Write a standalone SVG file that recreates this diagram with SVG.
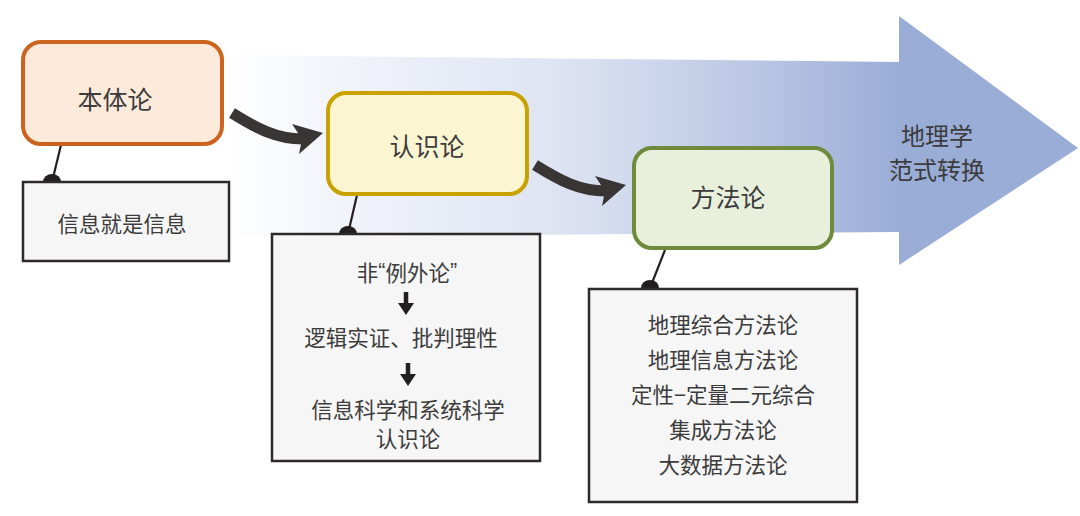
<svg xmlns="http://www.w3.org/2000/svg" width="1080" height="516" viewBox="0 0 1080 516">
<defs>
<linearGradient id="bg" gradientUnits="userSpaceOnUse" x1="225" y1="0" x2="900" y2="0">
<stop offset="0" stop-color="#ffffff"/>
<stop offset="0.15" stop-color="#f3f5fb"/>
<stop offset="0.5" stop-color="#dde3f2"/>
<stop offset="0.8" stop-color="#b8c5e3"/>
<stop offset="1" stop-color="#9aadd7"/>
</linearGradient>
<g id="curv">
<path d="M232,113 C256,128 276,139 303,139" fill="none" stroke="#3a3535" stroke-width="11"/>
<polygon points="323,133 292,124 302,139 299,154" fill="#3a3535"/>
</g>
</defs>
<style>
text{font-family:"Noto Sans CJK SC","Noto Sans",sans-serif;fill:#3c3c3c;text-anchor:middle;dominant-baseline:central}
.t{font-size:25px}
.h{font-size:24px}
.s{font-size:21.5px}
.q{font-family:"Liberation Sans",sans-serif}
.box{fill:#f6f6f6;stroke:#2e2a2a;stroke-width:2.5}
.lk{stroke:#231f20;stroke-width:2.2}
.dot{fill:#231f20}
</style>
<g id="band">
<polygon points="225,55 899,62 899,16 1078,148 899,265 899,232 225,237" fill="url(#bg)"/>
<text class="h" x="937" y="134">地理学</text>
<text class="h" x="937" y="168">范式转换</text>
</g>
<g id="connectors">
<use href="#curv"/>
<use href="#curv" transform="translate(303,52)"/>
<line class="lk" x1="61" y1="145" x2="52" y2="182"/>
<path class="dot" d="M43,182 A9,8 0 0 1 61,182 Z"/>
<line class="lk" x1="357" y1="195" x2="348" y2="234"/>
<path class="dot" d="M339,234 A9,8 0 0 1 357,234 Z"/>
<line class="lk" x1="665" y1="250" x2="650" y2="288"/>
<path class="dot" d="M641,288 A9,8 0 0 1 659,288 Z"/>
</g>
<g id="n1">
<rect x="23" y="42" width="199" height="102" rx="18" fill="#fdeadb" stroke="#cc6420" stroke-width="4"/>
<text class="t" x="115" y="98">本体论</text>
</g>
<g id="n1b">
<rect class="box" x="23" y="182" width="206" height="79"/>
<text class="s" x="122" y="222">信息就是信息</text>
</g>
<g id="n2">
<rect x="328" y="93" width="199" height="101" rx="18" fill="#fcf5d2" stroke="#c9a200" stroke-width="4"/>
<text class="t" x="427" y="145">认识论</text>
</g>
<g id="n2b">
<rect class="box" x="272" y="234" width="268" height="227"/>
<text class="s" x="407" y="271">非<tspan class="q">“</tspan>例外论<tspan class="q">”</tspan></text>
<path d="M406,292 V305" stroke="#231f20" stroke-width="4.5" fill="none"/>
<polygon points="398,303 414,303 406,315" fill="#231f20"/>
<text class="s" x="401" y="336">逻辑实证、批判理性</text>
<path d="M408,363 V376" stroke="#231f20" stroke-width="4.5" fill="none"/>
<polygon points="400,374 416,374 408,386" fill="#231f20"/>
<text class="s" x="408" y="408">信息科学和系统科学</text>
<text class="s" x="408" y="437">认识论</text>
</g>
<g id="n3">
<rect x="634" y="148" width="198" height="100" rx="18" fill="#e8f0dc" stroke="#6f8a3a" stroke-width="4"/>
<text class="t" x="728" y="196">方法论</text>
</g>
<g id="n3b">
<rect class="box" x="589" y="289" width="268" height="213"/>
<text class="s" x="723" y="323">地理综合方法论</text>
<text class="s" x="723" y="358">地理信息方法论</text>
<text class="s" x="723" y="393">定性−定量二元综合</text>
<text class="s" x="723" y="428">集成方法论</text>
<text class="s" x="723" y="463">大数据方法论</text>
</g>
</svg>
